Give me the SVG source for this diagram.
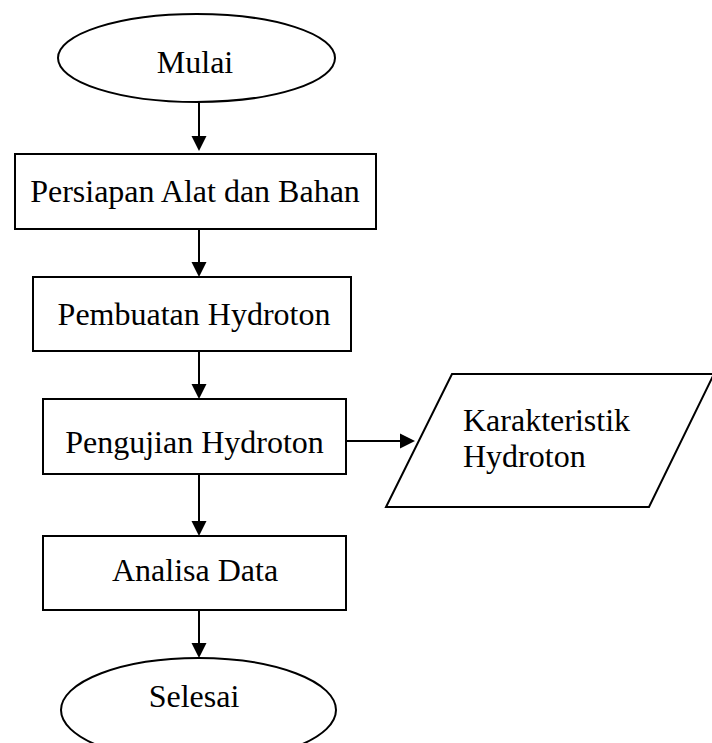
<svg xmlns="http://www.w3.org/2000/svg" width="712" height="743" viewBox="0 0 712 743">
<style>
.s{fill:#fff;stroke:#000;stroke-width:2}
.t{font-family:"Liberation Serif","Times New Roman",serif;font-size:32px;fill:#000}
.c{stroke:#000;stroke-width:2;fill:none}
</style>
<rect width="712" height="743" fill="#fff"/>
<g id="connectors">
<line class="c" x1="199" y1="102" x2="199" y2="136"/>
<polygon points="191.5,136 206.5,136 199,151" fill="#000"/>
<line class="c" x1="199" y1="229" x2="199" y2="262"/>
<polygon points="191.5,262 206.5,262 199,277" fill="#000"/>
<line class="c" x1="199" y1="351" x2="199" y2="384"/>
<polygon points="191.5,384 206.5,384 199,399" fill="#000"/>
<line class="c" x1="346" y1="441" x2="400" y2="441"/>
<polygon points="400,433.5 400,448.5 415,441" fill="#000"/>
<line class="c" x1="199" y1="474" x2="199" y2="521"/>
<polygon points="191.5,521 206.5,521 199,536" fill="#000"/>
<line class="c" x1="199" y1="610" x2="199" y2="643"/>
<polygon points="191.5,643 206.5,643 199,658" fill="#000"/>
</g>
<g id="mulai">
<ellipse class="s" cx="196.5" cy="58" rx="138.5" ry="44"/>
<text class="t" x="195" y="72.5" text-anchor="middle">Mulai</text>
</g>
<g id="persiapan">
<rect class="s" x="15" y="154" width="361" height="75"/>
<text class="t" x="195" y="202" text-anchor="middle">Persiapan Alat dan Bahan</text>
</g>
<g id="pembuatan">
<rect class="s" x="33" y="277" width="318" height="74"/>
<text class="t" x="194" y="325" text-anchor="middle">Pembuatan Hydroton</text>
</g>
<g id="pengujian">
<rect class="s" x="43" y="399" width="303" height="75"/>
<text class="t" x="194.5" y="453" text-anchor="middle">Pengujian Hydroton</text>
</g>
<g id="karakteristik">
<polygon class="s" points="452,374 714,374 649,507 386,507"/>
<text class="t" x="463" y="430.5">Karakteristik</text>
<text class="t" x="463" y="467">Hydroton</text>
</g>
<g id="analisa">
<rect class="s" x="43" y="536" width="303" height="74"/>
<text class="t" x="195" y="581" text-anchor="middle">Analisa Data</text>
</g>
<g id="selesai">
<ellipse class="s" cx="198.5" cy="710" rx="137.5" ry="52"/>
<text class="t" x="194" y="707" text-anchor="middle">Selesai</text>
</g>
</svg>
